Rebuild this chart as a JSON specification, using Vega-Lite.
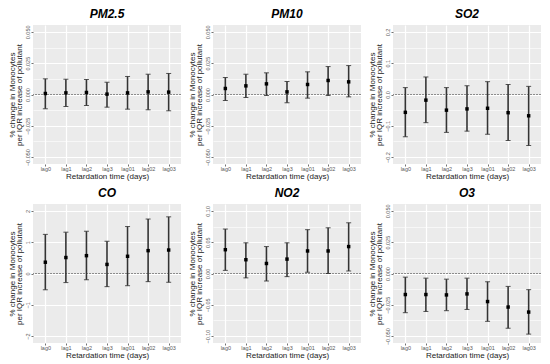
{
 "$schema": "https://vega.github.io/schema/vega-lite/v6.json",
 "padding": {"left": 8, "top": 7, "right": 5, "bottom": 5},
 "background": "white",
 "bounds": "flush",
 "columns": 3,
 "spacing": {"row": 40, "column": 32},
 "config": {
  "font": "Liberation Sans",
  "view": {"fill": "#EBEBEB", "stroke": null},
  "title": {"fontSize": 12, "fontWeight": "bold", "fontStyle": "italic", "color": "#000", "anchor": "middle", "frame": "group", "baseline": "alphabetic", "offset": 4.5},
  "axis": {"grid": true, "domain": false, "gridColor": "#ffffff", "gridOpacity": 1, "gridWidth": 1.2, "tickColor": "#333333", "tickSize": 2, "tickWidth": 0.7, "labelColor": "#5a5a5a", "labelFontSize": 5.5, "labelOverlap": false, "titleFontSize": 8, "titleFontWeight": "normal", "titleColor": "#1a1a1a"},
  "axisX": {"labelAngle": 0, "labelPadding": 0.5, "titlePadding": 0.5},
  "axisY": {"labelAngle": -90, "labelPadding": 0.5, "titlePadding": 2, "titleLineHeight": 7.5},
  "errorbar": {"ticks": {"size": 5, "thickness": 1, "color": "#111"}, "rule": {"strokeWidth": 1.6, "color": "#333"}}
 },
 "datasets": {
  "d": [
   {"p": "PM2.5", "lag": "lag0", "est": 0.0008, "lo": -0.0114, "hi": 0.0125},
   {"p": "PM2.5", "lag": "lag1", "est": 0.0013, "lo": -0.0096, "hi": 0.0122},
   {"p": "PM2.5", "lag": "lag2", "est": 0.0016, "lo": -0.0088, "hi": 0.012},
   {"p": "PM2.5", "lag": "lag3", "est": 0.0003, "lo": -0.0101, "hi": 0.0098},
   {"p": "PM2.5", "lag": "lag01", "est": 0.0013, "lo": -0.0117, "hi": 0.0144},
   {"p": "PM2.5", "lag": "lag02", "est": 0.0021, "lo": -0.0122, "hi": 0.0162},
   {"p": "PM2.5", "lag": "lag03", "est": 0.0019, "lo": -0.013, "hi": 0.0168},
   {"p": "PM10", "lag": "lag0", "est": 0.0048, "lo": -0.0048, "hi": 0.0136},
   {"p": "PM10", "lag": "lag1", "est": 0.0069, "lo": -0.0024, "hi": 0.0162},
   {"p": "PM10", "lag": "lag2", "est": 0.0085, "lo": -0.0008, "hi": 0.0173},
   {"p": "PM10", "lag": "lag3", "est": 0.0021, "lo": -0.0066, "hi": 0.0104},
   {"p": "PM10", "lag": "lag01", "est": 0.008, "lo": -0.0029, "hi": 0.0181},
   {"p": "PM10", "lag": "lag02", "est": 0.0112, "lo": -0.0008, "hi": 0.0223},
   {"p": "PM10", "lag": "lag03", "est": 0.0101, "lo": -0.0019, "hi": 0.0231},
   {"p": "SO2", "lag": "lag0", "est": -0.057, "lo": -0.135, "hi": 0.022},
   {"p": "SO2", "lag": "lag1", "est": -0.018, "lo": -0.09, "hi": 0.056},
   {"p": "SO2", "lag": "lag2", "est": -0.05, "lo": -0.121, "hi": 0.022},
   {"p": "SO2", "lag": "lag3", "est": -0.046, "lo": -0.117, "hi": 0.028},
   {"p": "SO2", "lag": "lag01", "est": -0.044, "lo": -0.127, "hi": 0.041},
   {"p": "SO2", "lag": "lag02", "est": -0.058, "lo": -0.147, "hi": 0.032},
   {"p": "SO2", "lag": "lag03", "est": -0.068, "lo": -0.163, "hi": 0.026},
   {"p": "CO", "lag": "lag0", "est": 0.36, "lo": -0.52, "hi": 1.25},
   {"p": "CO", "lag": "lag1", "est": 0.51, "lo": -0.29, "hi": 1.32},
   {"p": "CO", "lag": "lag2", "est": 0.57, "lo": -0.2, "hi": 1.35},
   {"p": "CO", "lag": "lag3", "est": 0.29, "lo": -0.42, "hi": 1.03},
   {"p": "CO", "lag": "lag01", "est": 0.55, "lo": -0.39, "hi": 1.5},
   {"p": "CO", "lag": "lag02", "est": 0.73, "lo": -0.26, "hi": 1.74},
   {"p": "CO", "lag": "lag03", "est": 0.75, "lo": -0.28, "hi": 1.81},
   {"p": "NO2", "lag": "lag0", "est": 0.038, "lo": 0.005, "hi": 0.071},
   {"p": "NO2", "lag": "lag1", "est": 0.022, "lo": -0.007, "hi": 0.049},
   {"p": "NO2", "lag": "lag2", "est": 0.016, "lo": -0.012, "hi": 0.043},
   {"p": "NO2", "lag": "lag3", "est": 0.023, "lo": -0.005, "hi": 0.049},
   {"p": "NO2", "lag": "lag01", "est": 0.036, "lo": 0.002, "hi": 0.07},
   {"p": "NO2", "lag": "lag02", "est": 0.036, "lo": 0.0, "hi": 0.073},
   {"p": "NO2", "lag": "lag03", "est": 0.043, "lo": 0.004, "hi": 0.081},
   {"p": "O3", "lag": "lag0", "est": -0.0168, "lo": -0.0313, "hi": -0.0029},
   {"p": "O3", "lag": "lag1", "est": -0.0168, "lo": -0.0303, "hi": -0.0037},
   {"p": "O3", "lag": "lag2", "est": -0.0171, "lo": -0.0297, "hi": -0.0045},
   {"p": "O3", "lag": "lag3", "est": -0.0163, "lo": -0.0287, "hi": -0.0037},
   {"p": "O3", "lag": "lag01", "est": -0.0224, "lo": -0.0382, "hi": -0.0066},
   {"p": "O3", "lag": "lag02", "est": -0.0268, "lo": -0.0437, "hi": -0.0103},
   {"p": "O3", "lag": "lag03", "est": -0.0308, "lo": -0.0484, "hi": -0.0129}
  ]
 },
 "concat": [
  {
   "title": {"text": "PM2.5"}, "width": 148, "height": 139,
   "data": {"name": "d"}, "transform": [{"filter": "datum.p === 'PM2.5'"}],
   "encoding": {"x": {"field": "lag", "type": "ordinal", "sort": ["lag0","lag1","lag2","lag3","lag01","lag02","lag03"], "scale": {"type": "point", "padding": 0.6}, "title": "Retardation time (days)"}},
   "layer": [
    {"mark": {"type": "rule", "color": "#8c8c8c", "strokeDash": [1.5, 1.5], "strokeWidth": 0.8}, "encoding": {"x": null, "y": {"datum": 0, "type": "quantitative", "scale": {"domain": [-0.0555, 0.0555], "nice": false, "zero": false}, "title": ["% change in Monocytes", "per IQR increase of pollutant"], "axis": {"values": [-0.05, -0.0375, -0.025, -0.0125, 0, 0.0125, 0.025, 0.0375, 0.05], "format": ".3f", "labelExpr": "abs(datum.value*40-round(datum.value*40))>0.01 ? '' : datum.label", "gridWidth": {"condition": {"test": "abs(datum.value*40-round(datum.value*40))>0.01", "value": 0.6}, "value": 1.2}, "tickSize": {"condition": {"test": "abs(datum.value*40-round(datum.value*40))>0.01", "value": 0}, "value": 2}}}}},
    {"mark": "errorbar", "encoding": {"y": {"field": "lo", "type": "quantitative", "title": ["% change in Monocytes", "per IQR increase of pollutant"], "axis": {"values": [-0.05, -0.0375, -0.025, -0.0125, 0, 0.0125, 0.025, 0.0375, 0.05], "format": ".3f", "labelExpr": "abs(datum.value*40-round(datum.value*40))>0.01 ? '' : datum.label", "gridWidth": {"condition": {"test": "abs(datum.value*40-round(datum.value*40))>0.01", "value": 0.6}, "value": 1.2}, "tickSize": {"condition": {"test": "abs(datum.value*40-round(datum.value*40))>0.01", "value": 0}, "value": 2}}}, "y2": {"field": "hi"}}},
    {"mark": {"type": "square", "color": "#000", "size": 12, "opacity": 1}, "encoding": {"y": {"field": "est", "type": "quantitative", "title": ["% change in Monocytes", "per IQR increase of pollutant"], "axis": {"values": [-0.05, -0.0375, -0.025, -0.0125, 0, 0.0125, 0.025, 0.0375, 0.05], "format": ".3f", "labelExpr": "abs(datum.value*40-round(datum.value*40))>0.01 ? '' : datum.label", "gridWidth": {"condition": {"test": "abs(datum.value*40-round(datum.value*40))>0.01", "value": 0.6}, "value": 1.2}, "tickSize": {"condition": {"test": "abs(datum.value*40-round(datum.value*40))>0.01", "value": 0}, "value": 2}}}}}
   ]
  },
  {
   "title": {"text": "PM10"}, "width": 148, "height": 139,
   "data": {"name": "d"}, "transform": [{"filter": "datum.p === 'PM10'"}],
   "encoding": {"x": {"field": "lag", "type": "ordinal", "sort": ["lag0","lag1","lag2","lag3","lag01","lag02","lag03"], "scale": {"type": "point", "padding": 0.6}, "title": "Retardation time (days)"}},
   "layer": [
    {"mark": {"type": "rule", "color": "#8c8c8c", "strokeDash": [1.5, 1.5], "strokeWidth": 0.8}, "encoding": {"x": null, "y": {"datum": 0, "type": "quantitative", "scale": {"domain": [-0.0555, 0.0555], "nice": false, "zero": false}, "title": ["% change in Monocytes", "per IQR increase of pollutant"], "axis": {"values": [-0.05, -0.0375, -0.025, -0.0125, 0, 0.0125, 0.025, 0.0375, 0.05], "format": ".3f", "labelExpr": "abs(datum.value*40-round(datum.value*40))>0.01 ? '' : datum.label", "gridWidth": {"condition": {"test": "abs(datum.value*40-round(datum.value*40))>0.01", "value": 0.6}, "value": 1.2}, "tickSize": {"condition": {"test": "abs(datum.value*40-round(datum.value*40))>0.01", "value": 0}, "value": 2}}}}},
    {"mark": "errorbar", "encoding": {"y": {"field": "lo", "type": "quantitative", "title": ["% change in Monocytes", "per IQR increase of pollutant"], "axis": {"values": [-0.05, -0.0375, -0.025, -0.0125, 0, 0.0125, 0.025, 0.0375, 0.05], "format": ".3f", "labelExpr": "abs(datum.value*40-round(datum.value*40))>0.01 ? '' : datum.label", "gridWidth": {"condition": {"test": "abs(datum.value*40-round(datum.value*40))>0.01", "value": 0.6}, "value": 1.2}, "tickSize": {"condition": {"test": "abs(datum.value*40-round(datum.value*40))>0.01", "value": 0}, "value": 2}}}, "y2": {"field": "hi"}}},
    {"mark": {"type": "square", "color": "#000", "size": 12, "opacity": 1}, "encoding": {"y": {"field": "est", "type": "quantitative", "title": ["% change in Monocytes", "per IQR increase of pollutant"], "axis": {"values": [-0.05, -0.0375, -0.025, -0.0125, 0, 0.0125, 0.025, 0.0375, 0.05], "format": ".3f", "labelExpr": "abs(datum.value*40-round(datum.value*40))>0.01 ? '' : datum.label", "gridWidth": {"condition": {"test": "abs(datum.value*40-round(datum.value*40))>0.01", "value": 0.6}, "value": 1.2}, "tickSize": {"condition": {"test": "abs(datum.value*40-round(datum.value*40))>0.01", "value": 0}, "value": 2}}}}}
   ]
  },
  {
   "title": {"text": "SO2"}, "width": 148, "height": 139,
   "data": {"name": "d"}, "transform": [{"filter": "datum.p === 'SO2'"}],
   "encoding": {"x": {"field": "lag", "type": "ordinal", "sort": ["lag0","lag1","lag2","lag3","lag01","lag02","lag03"], "scale": {"type": "point", "padding": 0.6}, "title": "Retardation time (days)"}},
   "layer": [
    {"mark": {"type": "rule", "color": "#8c8c8c", "strokeDash": [1.5, 1.5], "strokeWidth": 0.8}, "encoding": {"x": null, "y": {"datum": 0, "type": "quantitative", "scale": {"domain": [-0.222, 0.222], "nice": false, "zero": false}, "title": ["% change in Monocytes", "per IQR increase of pollutant"], "axis": {"values": [-0.2, -0.15, -0.1, -0.05, 0, 0.05, 0.1, 0.15, 0.2], "format": ".1f", "labelExpr": "abs(datum.value*10-round(datum.value*10))>0.01 ? '' : datum.label", "gridWidth": {"condition": {"test": "abs(datum.value*10-round(datum.value*10))>0.01", "value": 0.6}, "value": 1.2}, "tickSize": {"condition": {"test": "abs(datum.value*10-round(datum.value*10))>0.01", "value": 0}, "value": 2}}}}},
    {"mark": "errorbar", "encoding": {"y": {"field": "lo", "type": "quantitative", "title": ["% change in Monocytes", "per IQR increase of pollutant"], "axis": {"values": [-0.2, -0.15, -0.1, -0.05, 0, 0.05, 0.1, 0.15, 0.2], "format": ".1f", "labelExpr": "abs(datum.value*10-round(datum.value*10))>0.01 ? '' : datum.label", "gridWidth": {"condition": {"test": "abs(datum.value*10-round(datum.value*10))>0.01", "value": 0.6}, "value": 1.2}, "tickSize": {"condition": {"test": "abs(datum.value*10-round(datum.value*10))>0.01", "value": 0}, "value": 2}}}, "y2": {"field": "hi"}}},
    {"mark": {"type": "square", "color": "#000", "size": 12, "opacity": 1}, "encoding": {"y": {"field": "est", "type": "quantitative", "title": ["% change in Monocytes", "per IQR increase of pollutant"], "axis": {"values": [-0.2, -0.15, -0.1, -0.05, 0, 0.05, 0.1, 0.15, 0.2], "format": ".1f", "labelExpr": "abs(datum.value*10-round(datum.value*10))>0.01 ? '' : datum.label", "gridWidth": {"condition": {"test": "abs(datum.value*10-round(datum.value*10))>0.01", "value": 0.6}, "value": 1.2}, "tickSize": {"condition": {"test": "abs(datum.value*10-round(datum.value*10))>0.01", "value": 0}, "value": 2}}}}}
   ]
  },
  {
   "title": {"text": "CO"}, "width": 148, "height": 139,
   "data": {"name": "d"}, "transform": [{"filter": "datum.p === 'CO'"}],
   "encoding": {"x": {"field": "lag", "type": "ordinal", "sort": ["lag0","lag1","lag2","lag3","lag01","lag02","lag03"], "scale": {"type": "point", "padding": 0.6}, "title": "Retardation time (days)"}},
   "layer": [
    {"mark": {"type": "rule", "color": "#8c8c8c", "strokeDash": [1.5, 1.5], "strokeWidth": 0.8}, "encoding": {"x": null, "y": {"datum": 0, "type": "quantitative", "scale": {"domain": [-2.22, 2.22], "nice": false, "zero": false}, "title": ["% change in Monocytes", "per IQR increase of pollutant"], "axis": {"values": [-2, -1.5, -1, -0.5, 0, 0.5, 1, 1.5, 2], "format": "d", "labelExpr": "abs(datum.value-round(datum.value))>0.01 ? '' : datum.label", "gridWidth": {"condition": {"test": "abs(datum.value-round(datum.value))>0.01", "value": 0.6}, "value": 1.2}, "tickSize": {"condition": {"test": "abs(datum.value-round(datum.value))>0.01", "value": 0}, "value": 2}}}}},
    {"mark": "errorbar", "encoding": {"y": {"field": "lo", "type": "quantitative", "title": ["% change in Monocytes", "per IQR increase of pollutant"], "axis": {"values": [-2, -1.5, -1, -0.5, 0, 0.5, 1, 1.5, 2], "format": "d", "labelExpr": "abs(datum.value-round(datum.value))>0.01 ? '' : datum.label", "gridWidth": {"condition": {"test": "abs(datum.value-round(datum.value))>0.01", "value": 0.6}, "value": 1.2}, "tickSize": {"condition": {"test": "abs(datum.value-round(datum.value))>0.01", "value": 0}, "value": 2}}}, "y2": {"field": "hi"}}},
    {"mark": {"type": "square", "color": "#000", "size": 12, "opacity": 1}, "encoding": {"y": {"field": "est", "type": "quantitative", "title": ["% change in Monocytes", "per IQR increase of pollutant"], "axis": {"values": [-2, -1.5, -1, -0.5, 0, 0.5, 1, 1.5, 2], "format": "d", "labelExpr": "abs(datum.value-round(datum.value))>0.01 ? '' : datum.label", "gridWidth": {"condition": {"test": "abs(datum.value-round(datum.value))>0.01", "value": 0.6}, "value": 1.2}, "tickSize": {"condition": {"test": "abs(datum.value-round(datum.value))>0.01", "value": 0}, "value": 2}}}}}
   ]
  },
  {
   "title": {"text": "NO2"}, "width": 148, "height": 139,
   "data": {"name": "d"}, "transform": [{"filter": "datum.p === 'NO2'"}],
   "encoding": {"x": {"field": "lag", "type": "ordinal", "sort": ["lag0","lag1","lag2","lag3","lag01","lag02","lag03"], "scale": {"type": "point", "padding": 0.6}, "title": "Retardation time (days)"}},
   "layer": [
    {"mark": {"type": "rule", "color": "#8c8c8c", "strokeDash": [1.5, 1.5], "strokeWidth": 0.8}, "encoding": {"x": null, "y": {"datum": 0, "type": "quantitative", "scale": {"domain": [-0.111, 0.111], "nice": false, "zero": false}, "title": ["% change in Monocytes", "per IQR increase of pollutant"], "axis": {"values": [-0.1, -0.075, -0.05, -0.025, 0, 0.025, 0.05, 0.075, 0.1], "format": ".2f", "labelExpr": "abs(datum.value*20-round(datum.value*20))>0.01 ? '' : datum.label", "gridWidth": {"condition": {"test": "abs(datum.value*20-round(datum.value*20))>0.01", "value": 0.6}, "value": 1.2}, "tickSize": {"condition": {"test": "abs(datum.value*20-round(datum.value*20))>0.01", "value": 0}, "value": 2}}}}},
    {"mark": "errorbar", "encoding": {"y": {"field": "lo", "type": "quantitative", "title": ["% change in Monocytes", "per IQR increase of pollutant"], "axis": {"values": [-0.1, -0.075, -0.05, -0.025, 0, 0.025, 0.05, 0.075, 0.1], "format": ".2f", "labelExpr": "abs(datum.value*20-round(datum.value*20))>0.01 ? '' : datum.label", "gridWidth": {"condition": {"test": "abs(datum.value*20-round(datum.value*20))>0.01", "value": 0.6}, "value": 1.2}, "tickSize": {"condition": {"test": "abs(datum.value*20-round(datum.value*20))>0.01", "value": 0}, "value": 2}}}, "y2": {"field": "hi"}}},
    {"mark": {"type": "square", "color": "#000", "size": 12, "opacity": 1}, "encoding": {"y": {"field": "est", "type": "quantitative", "title": ["% change in Monocytes", "per IQR increase of pollutant"], "axis": {"values": [-0.1, -0.075, -0.05, -0.025, 0, 0.025, 0.05, 0.075, 0.1], "format": ".2f", "labelExpr": "abs(datum.value*20-round(datum.value*20))>0.01 ? '' : datum.label", "gridWidth": {"condition": {"test": "abs(datum.value*20-round(datum.value*20))>0.01", "value": 0.6}, "value": 1.2}, "tickSize": {"condition": {"test": "abs(datum.value*20-round(datum.value*20))>0.01", "value": 0}, "value": 2}}}}}
   ]
  },
  {
   "title": {"text": "O3"}, "width": 148, "height": 139,
   "data": {"name": "d"}, "transform": [{"filter": "datum.p === 'O3'"}],
   "encoding": {"x": {"field": "lag", "type": "ordinal", "sort": ["lag0","lag1","lag2","lag3","lag01","lag02","lag03"], "scale": {"type": "point", "padding": 0.6}, "title": "Retardation time (days)"}},
   "layer": [
    {"mark": {"type": "rule", "color": "#8c8c8c", "strokeDash": [1.5, 1.5], "strokeWidth": 0.8}, "encoding": {"x": null, "y": {"datum": 0, "type": "quantitative", "scale": {"domain": [-0.0555, 0.0555], "nice": false, "zero": false}, "title": ["% change in Monocytes", "per IQR increase of pollutant"], "axis": {"values": [-0.05, -0.0375, -0.025, -0.0125, 0, 0.0125, 0.025, 0.0375, 0.05], "format": ".3f", "labelExpr": "abs(datum.value*40-round(datum.value*40))>0.01 ? '' : datum.label", "gridWidth": {"condition": {"test": "abs(datum.value*40-round(datum.value*40))>0.01", "value": 0.6}, "value": 1.2}, "tickSize": {"condition": {"test": "abs(datum.value*40-round(datum.value*40))>0.01", "value": 0}, "value": 2}}}}},
    {"mark": "errorbar", "encoding": {"y": {"field": "lo", "type": "quantitative", "title": ["% change in Monocytes", "per IQR increase of pollutant"], "axis": {"values": [-0.05, -0.0375, -0.025, -0.0125, 0, 0.0125, 0.025, 0.0375, 0.05], "format": ".3f", "labelExpr": "abs(datum.value*40-round(datum.value*40))>0.01 ? '' : datum.label", "gridWidth": {"condition": {"test": "abs(datum.value*40-round(datum.value*40))>0.01", "value": 0.6}, "value": 1.2}, "tickSize": {"condition": {"test": "abs(datum.value*40-round(datum.value*40))>0.01", "value": 0}, "value": 2}}}, "y2": {"field": "hi"}}},
    {"mark": {"type": "square", "color": "#000", "size": 12, "opacity": 1}, "encoding": {"y": {"field": "est", "type": "quantitative", "title": ["% change in Monocytes", "per IQR increase of pollutant"], "axis": {"values": [-0.05, -0.0375, -0.025, -0.0125, 0, 0.0125, 0.025, 0.0375, 0.05], "format": ".3f", "labelExpr": "abs(datum.value*40-round(datum.value*40))>0.01 ? '' : datum.label", "gridWidth": {"condition": {"test": "abs(datum.value*40-round(datum.value*40))>0.01", "value": 0.6}, "value": 1.2}, "tickSize": {"condition": {"test": "abs(datum.value*40-round(datum.value*40))>0.01", "value": 0}, "value": 2}}}}}
   ]
  }
 ]
}
